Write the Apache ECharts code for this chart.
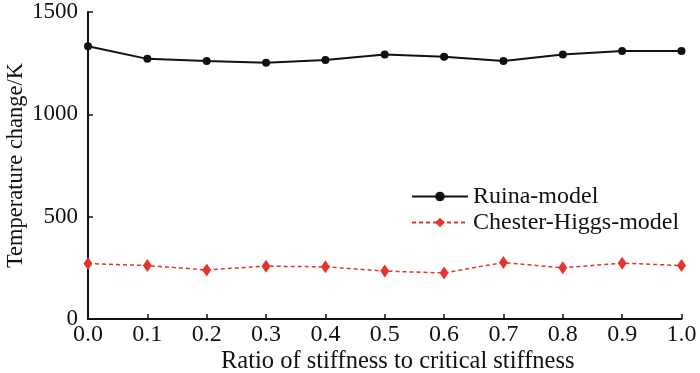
<!DOCTYPE html>
<html>
<head>
<meta charset="utf-8">
<script src="https://cdn.jsdelivr.net/npm/echarts@6/dist/echarts.min.js"></script>
<style>
  html, body { margin: 0; padding: 0; background: #fff; }
  #chart { width: 700px; height: 373px; }
</style>
</head>
<body>
<div id="chart"></div>
<script>
const ratios = [0.0, 0.1, 0.2, 0.3, 0.4, 0.5, 0.6, 0.7, 0.8, 0.9, 1.0];
const ruinaValues = [1333, 1271, 1260, 1252, 1266, 1292, 1281, 1261, 1292, 1309, 1310];
const chesterValues = [271, 261, 240, 258, 255, 234, 225, 276, 250, 273, 261];
const yTicks = [0, 500, 1000, 1500];

const font = "Liberation Serif";
const pairs = (vals) => ratios.map((x, i) => [x, vals[i]]);

const chart = echarts.init(document.getElementById("chart"));
chart.setOption({
  animation: false,
  backgroundColor: "#fff",
  grid: { left: 88, right: 18.5, top: 12, bottom: 54, outerBoundsMode: "none" },
  legend: {
    orient: "vertical",
    left: 406,
    top: 178.5,
    itemWidth: 56,
    itemHeight: 12,
    itemGap: 0,
    textStyle: { fontFamily: font, fontSize: 24, lineHeight: 26, color: "#111" },
    data: ["Ruina-model", "Chester-Higgs-model"],
  },
  xAxis: {
    type: "value",
    min: 0,
    max: 1,
    interval: 0.1,
    name: "Ratio of stiffness to critical stiffness",
    nameLocation: "middle",
    nameGap: 30,
    nameMoveOverlap: false,
    nameTextStyle: { fontFamily: font, fontSize: 24.5, color: "#111", padding: [0, 0, 0, 26] },
    axisLine: { lineStyle: { color: "#111", width: 2 } },
    axisTick: { inside: true, length: 5, lineStyle: { color: "#111", width: 1.5 } },
    axisLabel: {
      fontFamily: font, fontSize: 24, color: "#111", margin: 4,
      formatter: (v) => v.toFixed(1),
    },
    splitLine: { show: false },
  },
  yAxis: {
    type: "value",
    min: yTicks[0],
    max: yTicks[yTicks.length - 1],
    interval: 500,
    name: "Temperature change/K",
    nameLocation: "middle",
    nameGap: 60,
    nameMoveOverlap: false,
    nameTextStyle: { fontFamily: font, fontSize: 22.5, color: "#111" },
    axisLine: { show: true, lineStyle: { color: "#111", width: 2 } },
    axisTick: { show: true, inside: true, length: 5, lineStyle: { color: "#111", width: 1.5 } },
    axisLabel: {
      fontFamily: font, fontSize: 23, color: "#111", margin: 10,
      formatter: (v) => String(v),
    },
    splitLine: { show: false },
  },
  series: [
    {
      name: "Ruina-model",
      type: "line",
      data: pairs(ruinaValues),
      symbol: "circle",
      symbolSize: 8,
      itemStyle: { color: "#111" },
      lineStyle: { color: "#111", width: 2 },
    },
    {
      name: "Chester-Higgs-model",
      type: "line",
      data: pairs(chesterValues),
      symbol: "diamond",
      symbolSize: [9, 13],
      itemStyle: { color: "#e5342f" },
      lineStyle: { color: "#e5342f", width: 1.5, type: [4, 3] },
    },
  ],
});
</script>
</body>
</html>
